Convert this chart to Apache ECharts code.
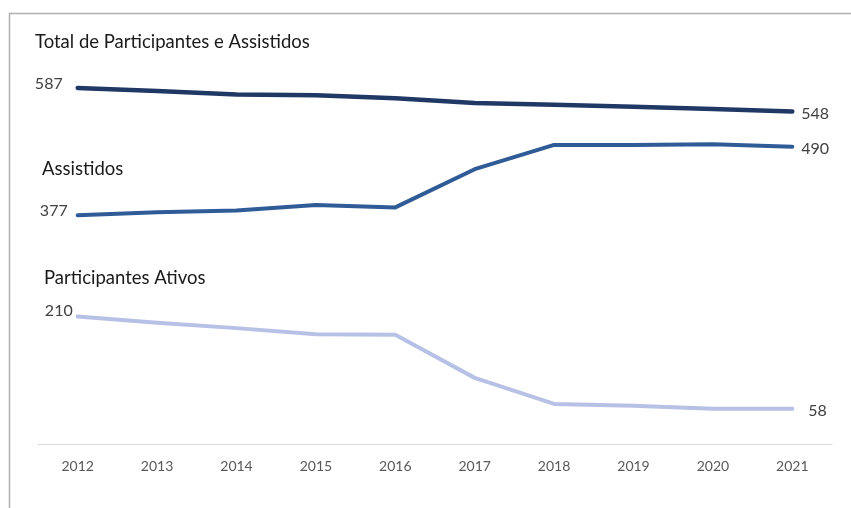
<!DOCTYPE html>
<html>
<head>
<meta charset="utf-8">
<script src="https://cdn.jsdelivr.net/npm/echarts@6/dist/echarts.min.js"></script>
<style>
  html, body { margin: 0; padding: 0; background: #fff; }
  #chart { width: 851px; height: 508px; }
</style>
</head>
<body>
<div id="chart"></div>
<script>
// data
const years = ['2012', '2013', '2014', '2015', '2016', '2017', '2018', '2019', '2020', '2021'];
const total = [587, 582, 576, 575, 570, 562, 559, 556, 552, 548];
const assistidos = [377, 382, 385, 394, 390, 453, 493, 493, 494, 490];
const ativos = [210, 200, 191, 181, 180, 109, 66, 63, 58, 58];

const fontFamily = 'Lato, "Open Sans", sans-serif';

// value labels only on the first and last points
const withEndLabels = (values, leftOffset, rightOffset) =>
  values.map((v, i) => {
    if (i === 0) {
      return {
        value: v,
        label: { show: true, position: 'left', distance: 14, offset: leftOffset }
      };
    }
    if (i === values.length - 1) {
      return {
        value: v,
        label: { show: true, position: 'right', distance: 8, offset: rightOffset }
      };
    }
    return v;
  });

const makeSeries = (name, values, color, width, leftOffset, rightOffset) => ({
  name: name,
  type: 'line',
  data: withEndLabels(values, leftOffset, rightOffset),
  // tiny symbols so the labels have something to hang on
  symbol: 'circle',
  symbolSize: 2,
  showSymbol: true,
  itemStyle: { color: color },
  lineStyle: { color: color, width: width, cap: 'round', join: 'round' },
  label: {
    show: false,
    color: '#404040',
    fontSize: 16,
    fontFamily: fontFamily,
    formatter: '{c}'
  }
});

const titleStyle = { fontSize: 18.5, fontWeight: 'normal', color: '#1a1a1a', fontFamily: fontFamily };

const chart = echarts.init(document.getElementById('chart'));

const option = {
  backgroundColor: '#fff',
  animation: false,
  title: [
    { text: 'Total de Participantes e Assistidos', left: 35, top: 33, padding: 0, textStyle: titleStyle },
    { text: 'Assistidos', left: 42, top: 160, padding: 0, textStyle: titleStyle },
    { text: 'Participantes Ativos', left: 44, top: 269, padding: 0, textStyle: titleStyle }
  ],
  graphic: [
    {
      type: 'rect',
      shape: { x: 9.5, y: 13.5, width: 900, height: 600 },
      style: { fill: 'none', stroke: '#b0b0b0', lineWidth: 1.5 },
      silent: true
    }
  ],
  grid: { left: 38, right: 19, top: 80, bottom: 64 },
  xAxis: {
    type: 'category',
    data: years,
    boundaryGap: true,
    axisLine: { lineStyle: { color: '#d9d9d9', width: 1 } },
    axisTick: { show: false },
    axisLabel: { color: '#595959', fontSize: 14, fontFamily: fontFamily, margin: 15 }
  },
  yAxis: {
    type: 'value',
    min: 0,
    max: 600,
    show: false,
    splitLine: { show: false }
  },
  series: [
    makeSeries('Total', total, '#1f3864', 4.5, [0, -4], [0, 2]),
    makeSeries('Assistidos', assistidos, '#2f5b97', 4, [5, -4], [0, 2]),
    makeSeries('Participantes Ativos', ativos, '#b7c1e6', 4, [10, -6], [7, 2])
  ]
};

chart.setOption(option);
</script>
</body>
</html>
